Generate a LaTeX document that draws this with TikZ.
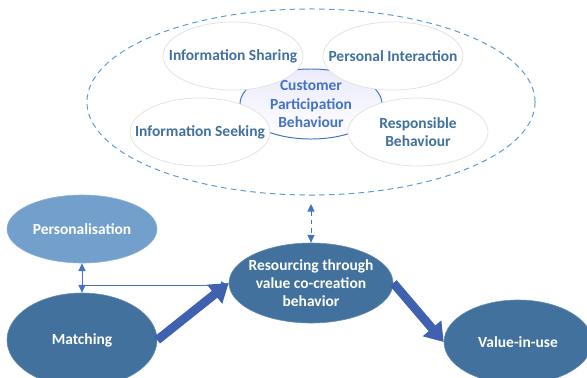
\documentclass[tikz,border=0pt]{standalone}
\usepackage{fontspec}
\setmainfont{Carlito}
\usetikzlibrary{shapes.geometric,arrows.meta}

\definecolor{steel}{HTML}{41719C}
\definecolor{lightsteel}{HTML}{739FCD}
\definecolor{royal}{HTML}{4472C4}
\definecolor{fatblue}{HTML}{4060B0}
\definecolor{dashblue}{HTML}{5B9BD5}

\begin{document}
\begin{tikzpicture}[
    x=0.025cm, y=-0.025cm,
    every label/.style={font=\fontsize{11}{13}\selectfont\bfseries, align=center},
    outerell/.style={ellipse, draw=dashblue, dash pattern=on 4pt off 3pt, line width=0.7pt, minimum width=11.2cm, minimum height=4.65cm},
    coreell/.style={ellipse, draw=royal, line width=0.7pt, top color=black!12!blue!8, bottom color=white, minimum width=3.55cm, minimum height=1.75cm, inner sep=0pt},
    petal/.style={ellipse, draw=black!12, line width=0.5pt, fill=white, minimum width=3.5cm, minimum height=1.7cm, inner sep=0pt},
    bignode/.style={ellipse, fill=steel, draw=steel!80, inner sep=0pt},
    thinarrow/.style={draw=royal, line width=0.7pt, -{Triangle[length=5.5pt,width=5pt]}},
    fatarrow/.style={draw=fatblue, line width=0.22cm, -{Triangle[length=0.45cm,width=0.58cm]}},
]
\useasboundingbox (0,0) rectangle (587,377);

% behaviour cluster
\node[outerell] (outer) at (311,102) {};
\node[coreell, label={[text=royal]center:Customer\\Participation\\Behaviour}] (cpb) at (311,104) {};
\node[petal, label={[text=steel]center:Information Sharing}] (share) at (233,56) {};
\node[petal, label={[text=steel]center:Personal Interaction}] (inter) at (393,56) {};
\node[petal, label={[text=steel]center:Information Seeking}] (seek) at (200,132) {};
\node[petal, label={[text=steel]center:Responsible\\Behaviour}] (resp) at (418,132) {};

% process
\node[bignode, fill=lightsteel, draw=lightsteel!80, minimum width=3.75cm, minimum height=1.7cm, label={[text=white]center:Personalisation}] (pers) at (82,229) {};
\node[bignode, minimum width=3.75cm, minimum height=2.35cm, label={[text=white]center:Matching}] (match) at (82,340) {};
\node[bignode, minimum width=4.1cm, minimum height=2cm, label={[text=white]center:Resourcing through\\value co-creation\\behavior}] (res) at (311,283) {};
\node[bignode, minimum width=3.7cm, minimum height=2.1cm, label={[text=white]center:Value-in-use}] (value) at (518,342) {};

\coordinate (split) at (82,285);

% connectors
\draw[thinarrow, {Triangle[length=5.5pt,width=5pt]}-{Triangle[length=5.5pt,width=5pt]}] (pers) -- (match);
\draw[thinarrow] (split) -- (split -| res.west);
\draw[fatarrow] (match.east) -- (res.west);
\draw[fatarrow] (res.east) -- (value.west);
\draw[thinarrow, dashed, {Triangle[length=5.5pt,width=5pt]}-{Triangle[length=5.5pt,width=5pt]}, shorten <=6pt] (outer.south) -- (res.north);

\end{tikzpicture}
\end{document}
